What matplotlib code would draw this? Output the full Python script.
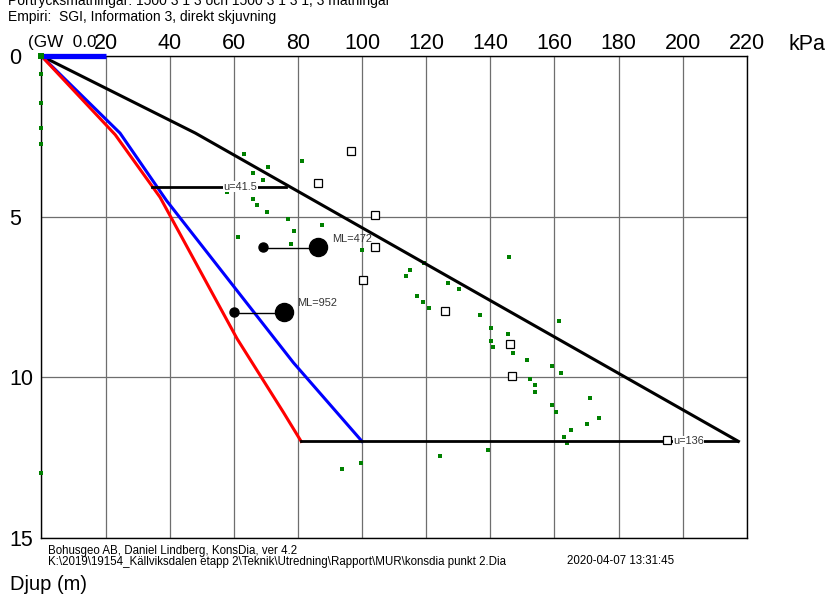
import numpy as np
import matplotlib
matplotlib.use("Agg")
import matplotlib.pyplot as plt

plt.rcParams["font.family"] = ["Liberation Sans", "DejaVu Sans"]

# stress / strength profiles (kPa vs depth m)
black_x = [0, 48, 217.4]
black_d = [0, 2.4, 12.0]
red_x = [0, 23, 37, 61, 75.5, 81]
red_d = [0, 2.45, 4.4, 8.8, 11.1, 12.0]
blue_x = [0, 24.5, 39, 78.6, 100]
blue_d = [0, 2.4, 4.5, 9.55, 12.0]

# pore pressure readings
u_depth = [4.07, 12.0]
u_vals = [41.5, 136]
u_text_x = [62, 197]

# shear strength points (green)
green_x = [0, 0, 0, 0, 0, 0,
           63.2, 81.2, 70.8, 65.9, 69.2, 63.2, 58.0, 65.9, 67.3, 70.5,
           76.8, 87.6, 78.7, 61.4, 77.8, 100.1, 145.9, 119.3, 115.1, 113.7,
           126.8, 130.2, 117.1, 119.1, 121.0, 136.9, 161.4, 140.3, 145.6, 140.3,
           140.9, 147.0, 151.6, 159.1, 162.2, 152.4, 153.8, 154.1, 171.2, 159.3,
           160.5, 173.9, 170.1, 165.1, 163.1, 164.0, 139.2, 124.3, 99.6, 93.9]
green_d = [0, 0.55, 1.45, 2.25, 2.75, 13.0,
           3.05, 3.26, 3.45, 3.65, 3.86, 4.04, 4.25, 4.45, 4.65, 4.85,
           5.06, 5.25, 5.45, 5.65, 5.86, 6.05, 6.26, 6.46, 6.66, 6.86,
           7.06, 7.26, 7.47, 7.66, 7.86, 8.06, 8.26, 8.46, 8.66, 8.86,
           9.07, 9.26, 9.46, 9.66, 9.87, 10.06, 10.26, 10.47, 10.66, 10.86,
           11.07, 11.27, 11.46, 11.66, 11.86, 12.06, 12.26, 12.46, 12.67, 12.87]

# open squares
open_x = [96.5, 86.2, 104, 104, 100.4, 126, 146, 146.8, 195.1]
open_d = [2.95, 3.95, 4.95, 5.95, 6.96, 7.95, 8.96, 9.96, 11.96]

# oedometer results
ml_small_x = [69.0, 60.2]
ml_big_x = [86.4, 75.5]
ml_d = [5.96, 7.96]
ml_labels = ["ML=472", "ML=952"]

gw_level = 0.0
gw_width = 20

fig = plt.figure(figsize=(8.31, 6.01), dpi=100)
ax = fig.add_axes([0.0499, 0.1053, 0.8487, 0.8015])
ax.set_xlim(0, 220)
ax.set_ylim(15, 0)

ax.set_xticks(range(0, 221, 20))
ax.set_xticklabels([""] + [str(v) for v in range(20, 221, 20)])
ax.set_yticks([0, 5, 10, 15])
ax.xaxis.tick_top()
ax.tick_params(axis="x", length=0, pad=1.5, labelsize=15.5)
ax.tick_params(axis="y", length=0, pad=23, labelsize=15.5)
for lbl in ax.get_yticklabels():
    lbl.set_horizontalalignment("left")
ax.grid(True, color="#6e6e6e", lw=0.9)
ax.set_axisbelow(True)
for s in ax.spines.values():
    s.set_color("black")
    s.set_linewidth(1.0)

ax.plot(green_x, green_d, "s", color="#008000", ms=3.3, mew=0, zorder=3, clip_on=False)
ax.plot([0], [0], "s", color="#008000", ms=4.5, mew=0, zorder=6, clip_on=False)

ax.plot(black_x, black_d, color="black", lw=2.2, zorder=4)
ax.plot(blue_x, blue_d, color="blue", lw=2.2, zorder=4)
ax.plot(red_x, red_d, color="red", lw=2.2, zorder=4)
ax.plot([0, gw_width], [gw_level, gw_level], color="blue", lw=3.8, zorder=5,
        clip_on=False, solid_capstyle="butt")

for d, u, tx in zip(u_depth, u_vals, u_text_x):
    x0 = np.interp(d, red_d, red_x)
    ax.plot([x0, x0 + u], [d, d], color="black", lw=2.0, zorder=4)
    ax.text(tx, d, f"u={u:g}", fontsize=7.9, color="#333333",
            ha="center" if tx < 100 else "left", va="center", zorder=6,
            bbox=dict(fc="white", ec="none", pad=0.3))

ax.plot(open_x, open_d, "s", mfc="white", mec="black", ms=5.5, mew=0.9, zorder=7)

for xs, xb, d, lab in zip(ml_small_x, ml_big_x, ml_d, ml_labels):
    ax.plot([xs, xb], [d + 0.03, d + 0.03], color="black", lw=1.0, zorder=4)
    ax.plot([xs], [d], "o", color="black", ms=6.5, zorder=5)
    ax.plot([xb], [d], "o", color="black", ms=13, zorder=5)
    ax.annotate(lab, (xb, d), xytext=(10, 6), textcoords="offset points",
                fontsize=7.9, color="#333333", va="center", ha="left")

fig.text(788 / 831, 1 - 44 / 601, "kPa", fontsize=15.5, va="center", ha="left")
fig.text(28 / 831, 1 - 42 / 601, "(GW  0.0", fontsize=12.3, va="center", ha="left")

fig.text(8 / 831, 1 - 5 / 601, "Portrycksmätningar: 1500 3 1 3 och 1500 3 1 3 1, 3 mätningar",
         fontsize=10, va="baseline", ha="left")
fig.text(8 / 831, 1 - 20.7 / 601, "Empiri:  SGI, Information 3, direkt skjuvning",
         fontsize=10, va="baseline", ha="left")

fig.text(47.7 / 831, 1 - 551 / 601, "Bohusgeo AB, Daniel Lindberg, KonsDia, ver 4.2",
         fontsize=8.3, va="center", ha="left")
fig.text(47.7 / 831, 1 - 561.5 / 601,
         "K:\\2019\\19154_Källviksdalen etapp 2\\Teknik\\Utredning\\Rapport\\MUR\\konsdia punkt 2.Dia",
         fontsize=8.3, va="center", ha="left")
fig.text(567 / 831, 1 - 561.5 / 601, "2020-04-07 13:31:45", fontsize=8.3, va="center", ha="left")
fig.text(10 / 831, 1 - 584 / 601, "Djup (m)", fontsize=14.5, va="center", ha="left")

fig.savefig("out.png", dpi=100)
